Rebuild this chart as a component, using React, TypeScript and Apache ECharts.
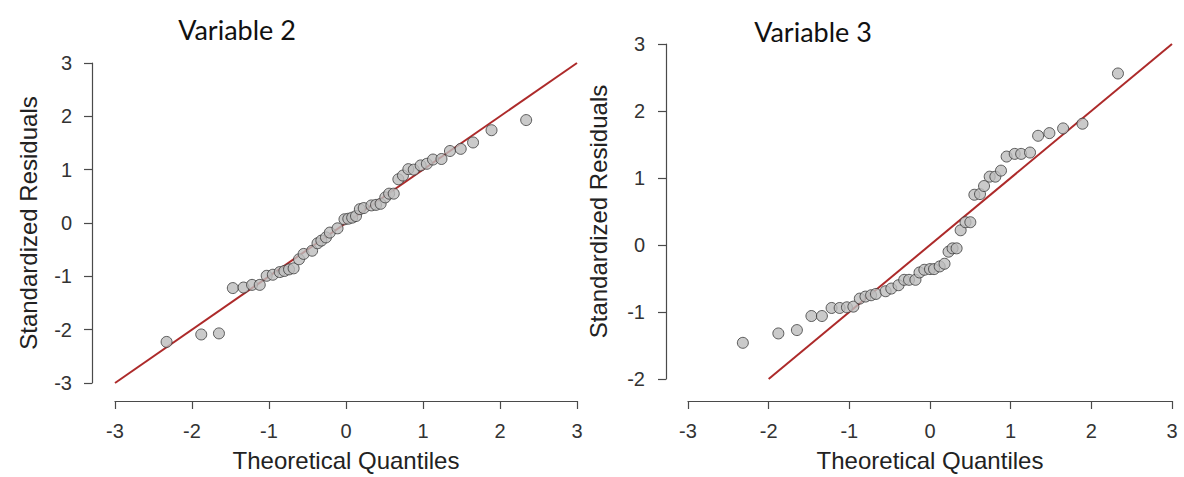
import React, { useEffect, useRef } from "react";
import * as echarts from "echarts";

const titles = ["Variable 2", "Variable 3"];
const xAxisName = "Theoretical Quantiles";
const yAxisName = "Standardized Residuals";
const xTicks = [-3, -2, -1, 0, 1, 2, 3];

const var2Theoretical = [
  -2.33, -1.88, -1.65, -1.47, -1.33, -1.22, -1.12, -1.03, -0.95, -0.86, -0.8, -0.74, -0.68, -0.61, -0.55, -0.44,
  -0.37, -0.32, -0.26, -0.21, -0.11, -0.02, 0.03, 0.08, 0.13, 0.18, 0.23, 0.33, 0.39, 0.45, 0.51, 0.56, 0.62, 0.68,
  0.74, 0.81, 0.88, 0.97, 1.05, 1.13, 1.24, 1.35, 1.49, 1.65, 1.89, 2.34,
];
const var2Residuals = [
  -2.23, -2.09, -2.07, -1.22, -1.21, -1.16, -1.16, -0.99, -0.97, -0.92, -0.9, -0.87, -0.85, -0.68, -0.58, -0.52,
  -0.38, -0.33, -0.27, -0.18, -0.1, 0.07, 0.08, 0.1, 0.13, 0.26, 0.28, 0.33, 0.34, 0.36, 0.48, 0.55, 0.55, 0.82,
  0.89, 1.01, 1.0, 1.08, 1.11, 1.19, 1.2, 1.35, 1.39, 1.51, 1.74, 1.93,
];
const var3Theoretical = [
  -2.32, -1.88, -1.65, -1.47, -1.34, -1.22, -1.12, -1.03, -0.95, -0.87, -0.8, -0.73, -0.67, -0.55, -0.48, -0.39,
  -0.32, -0.26, -0.18, -0.13, -0.07, 0.0, 0.05, 0.12, 0.18, 0.23, 0.28, 0.33, 0.38, 0.44, 0.5, 0.55, 0.62, 0.67,
  0.74, 0.81, 0.88, 0.95, 1.05, 1.13, 1.24, 1.34, 1.48, 1.65, 1.89, 2.33,
];
const var3Residuals = [
  -1.46, -1.32, -1.27, -1.06, -1.06, -0.94, -0.94, -0.93, -0.92, -0.8, -0.77, -0.75, -0.73, -0.69, -0.65, -0.6,
  -0.52, -0.52, -0.52, -0.41, -0.37, -0.36, -0.36, -0.32, -0.28, -0.1, -0.05, -0.05, 0.22, 0.34, 0.34, 0.75, 0.76,
  0.88, 1.02, 1.02, 1.11, 1.32, 1.36, 1.36, 1.38, 1.63, 1.67, 1.74, 1.81, 2.56,
];
const var2LineX = [-3, 3];
const var2LineY = [-3, 3];
const var3LineX = [-2, 3];
const var3LineY = [-2, 3];

const AXIS_COLOR = "#4a4a4a";
const LABEL_COLOR = "#333";
const FONT = "'Liberation Sans', Arial, sans-serif";

function zip(a: number[], b: number[]) {
  return a.map((v, i) => [v, b[i]]);
}

export default function App() {
  const ref = useRef<HTMLDivElement>(null);
  useEffect(() => {
    if (!ref.current) return;
    const chart = echarts.init(ref.current, undefined, { renderer: "svg" });
    const axisCommon = {
      type: "value" as const,
      interval: 1,
      splitLine: { show: false },
      axisLine: { show: true, onZero: false, lineStyle: { color: AXIS_COLOR, width: 1.2 } },
      axisTick: { show: true, inside: false, length: 8, lineStyle: { color: AXIS_COLOR, width: 1.2 } },
      nameTextStyle: { fontFamily: FONT, fontSize: 24, color: "#222" },
    };
    const xAxis = (gridIndex: number, offset: number) => ({
      ...axisCommon,
      gridIndex,
      min: -3,
      max: 3,
      offset,
      position: "bottom",
      name: xAxisName,
      nameLocation: "middle",
      nameGap: 47,
      axisLabel: {
        fontFamily: FONT,
        fontSize: 20,
        color: LABEL_COLOR,
        margin: 20,
        formatter: (v: number) => (xTicks.includes(v) ? String(v) : ""),
      },
    });
    const yAxis = (gridIndex: number, min: number, offset: number, nameGap: number, margin: number) => ({
      ...axisCommon,
      gridIndex,
      min,
      max: 3,
      offset,
      position: "left",
      name: yAxisName,
      nameLocation: "middle",
      nameGap,
      axisLabel: { fontFamily: FONT, fontSize: 20, color: LABEL_COLOR, margin },
    });
    const scatterStyle = {
      type: "scatter" as const,
      symbol: "circle",
      symbolSize: 11,
      itemStyle: { color: "#bdbdbd", borderColor: "#3a3a3a", borderWidth: 1 },
      z: 3,
    };
    const lineStyle = {
      type: "line" as const,
      symbol: "none",
      lineStyle: { color: "#ad2a2a", width: 2 },
      z: 2,
    };
    chart.setOption({
      animation: false,
      grid: [
        { left: 115, top: 63, width: 462, height: 327 },
        { left: 688, top: 44, width: 484, height: 341 },
      ],
      xAxis: [xAxis(0, 18), xAxis(1, 22)],
      yAxis: [yAxis(0, -3, 23, 52, 20), yAxis(1, -2, 22, 56, 21)],
      graphic: [
        {
          type: "text",
          x: 237,
          y: 29,
          style: { text: titles[0], font: "27px Lato, 'Open Sans', sans-serif", fill: "#111", align: "center", verticalAlign: "middle" },
        },
        {
          type: "text",
          x: 813,
          y: 31,
          style: { text: titles[1], font: "27px Lato, 'Open Sans', sans-serif", fill: "#111", align: "center", verticalAlign: "middle" },
        },
      ],
      series: [
        { ...lineStyle, xAxisIndex: 0, yAxisIndex: 0, data: zip(var2LineX, var2LineY) },
        { ...scatterStyle, xAxisIndex: 0, yAxisIndex: 0, data: zip(var2Theoretical, var2Residuals) },
        { ...lineStyle, xAxisIndex: 1, yAxisIndex: 1, data: zip(var3LineX, var3LineY) },
        { ...scatterStyle, xAxisIndex: 1, yAxisIndex: 1, data: zip(var3Theoretical, var3Residuals) },
      ],
    });
    return () => chart.dispose();
  }, []);
  return <div ref={ref} style={{ position: "fixed", left: 0, top: 0, width: 1184, height: 477, background: "#fff" }} />;
}
